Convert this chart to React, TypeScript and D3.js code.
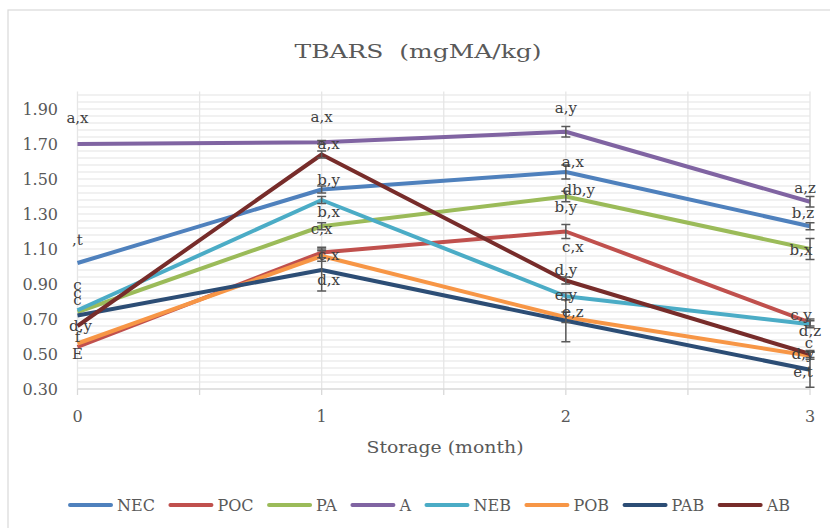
import React from "react";
import * as d3 from "d3";

const months = [0, 1, 2, 3];
const seriesNames = ["NEC", "POC", "PA", "A", "NEB", "POB", "PAB", "AB"];
const NEC = [1.02, 1.44, 1.54, 1.23];
const POC = [0.54, 1.08, 1.2, 0.68];
const PA = [0.74, 1.23, 1.4, 1.1];
const A = [1.7, 1.71, 1.77, 1.37];
const NEB = [0.75, 1.38, 0.83, 0.67];
const POB = [0.56, 1.06, 0.71, 0.49];
const PAB = [0.72, 0.98, 0.69, 0.41];
const AB = [0.66, 1.64, 0.92, 0.5];

const errNEC = [0, 0.02, 0.04, 0.02];
const errPOC = [0, 0.03, 0.04, 0.02];
const errPA = [0, 0.02, 0.03, 0.06];
const errA = [0, 0.01, 0.03, 0.03];
const errNEB = [0, 0.02, 0.02, 0.02];
const errPOB = [0, 0.03, 0.03, 0.02];
const errPAB = [0, 0.12, 0.12, 0.1];
const errAB = [0, 0.02, 0.02, 0.02];

const yTicks = [0.3, 0.5, 0.7, 0.9, 1.1, 1.3, 1.5, 1.7, 1.9];
const xTicks = [0, 1, 2, 3];

// significance letters: [series, month index, text]
const labelTexts: [string, number, string][] = [
  ["A", 0, "a,x"], ["NEC", 0, ",t"], ["NEB", 0, "c"], ["PA", 0, "c"], ["PAB", 0, "c"], ["AB", 0, "d,y"], ["POB", 0, "f"], ["POC", 0, "E"],
  ["A", 1, "a,x"], ["AB", 1, "a,x"], ["NEC", 1, "b,y"], ["NEB", 1, "b,x"], ["PA", 1, "c,x"], ["POC", 1, "c,x"], ["PAB", 1, "d,x"],
  ["A", 2, "a,y"], ["NEC", 2, "a,x"], ["PA", 2, "db,y"], ["POC", 2, "b,y"], ["POC", 2, "c,x"], ["AB", 2, "d,y"], ["NEB", 2, "e,y"], ["POB", 2, "e,z"],
  ["A", 3, "a,z"], ["NEC", 3, "b,z"], ["PA", 3, "b,x"], ["POC", 3, "c,y"], ["NEB", 3, "d,z"], ["POB", 3, "c"], ["AB", 3, "d,y"], ["PAB", 3, "e,t"],
];
// layout offsets (px) for each label above, same order
const labelOffsets: [number, number][] = [
  [0, -26], [0, -23], [0, -25], [0, -19], [0, -15.5], [3, 0], [0, -7], [0, 7],
  [0, -25.5], [7, -11], [7, -9.5], [7, 12], [0, 3], [7, 2.5], [7, 10],
  [0, -23.5], [7, -10], [13, -6.5], [0, -25], [7, 15], [0, -10.5], [0, -1], [7, -5.5],
  [-5, -13.5], [-7, -13], [-9, 1], [-9, -8], [0, 7], [-1, -12.5], [-7, -0.5], [-7, 2],
];

const colors = ["#4F81BD", "#C0504D", "#9BBB59", "#8064A2", "#4BACC6", "#F79646", "#2C4D75", "#772C2A"];

const values: Record<string, number[]> = { NEC, POC, PA, A, NEB, POB, PAB, AB };
const errors: Record<string, number[]> = {
  NEC: errNEC, POC: errPOC, PA: errPA, A: errA, NEB: errNEB, POB: errPOB, PAB: errPAB, AB: errAB,
};

const W = 830;
const H = 528;
const FONT = "DejaVu Serif";
const TXT = "#595959";

let ctx: CanvasRenderingContext2D | null = null;
function measure(text: string, size: number) {
  if (!ctx) ctx = document.createElement("canvas").getContext("2d");
  if (!ctx) return text.length * size * 0.6;
  ctx.font = `${size}px "${FONT}"`;
  return ctx.measureText(text).width;
}

export default function App() {
  const x = d3.scaleLinear().domain([0, 3]).range([77.5, 810]);
  const y = d3.scaleLinear().domain([0.3, 2.0]).range([389, 91.5]);
  const line = d3
    .line<number>()
    .x((_, i) => x(months[i]))
    .y((d) => y(d));

  const minorGrid = d3.range(0.34, 1.995, 0.04);
  const vGrid = d3.range(0, 3.01, 0.5);

  // legend layout
  const legSize = 16;
  const lineLen = 45;
  const gapLT = 4;
  const gapItem = 13.5;
  const widths = seriesNames.map((n) => measure(n, legSize));
  const total = widths.reduce((a, w) => a + lineLen + gapLT + w + gapItem, 0) - gapItem;
  let cursor = 429 - total / 2;
  const legendItems = seriesNames.map((n, i) => {
    const item = { n, i, x0: cursor };
    cursor += lineLen + gapLT + widths[i] + gapItem;
    return item;
  });

  return (
    <svg
      width={W}
      height={H}
      style={{ position: "absolute", left: 0, top: 0, background: "#fff" }}
      fontFamily={FONT}
    >
      <rect x={0} y={0} width={W} height={H} fill="#fff" />
      <rect x={8} y={10} width={W + 10} height={H + 10} fill="#fff" stroke="#d9d9d9" strokeWidth={1.2} />

      {/* gridlines */}
      {minorGrid.map((v, i) => (
        <line key={"h" + i} x1={x(0)} x2={x(3)} y1={y(v)} y2={y(v)} stroke="#ececec" strokeWidth={1.3} />
      ))}
      {vGrid.map((v, i) => (
        <line key={"v" + i} x1={x(v)} x2={x(v)} y1={y(2.0)} y2={y(0.3)} stroke="#e6e6e6" strokeWidth={1.3} />
      ))}
      {/* x axis */}
      <line x1={x(0)} x2={x(3)} y1={y(0.3)} y2={y(0.3)} stroke="#d9d9d9" strokeWidth={1.5} />
      {vGrid.map((v, i) => (
        <line key={"t" + i} x1={x(v)} x2={x(v)} y1={y(0.3)} y2={y(0.3) + 6} stroke="#d9d9d9" strokeWidth={1.3} />
      ))}

      {/* y tick labels */}
      {yTicks.map((t) => (
        <text key={"yt" + t} x={58} y={y(t)} textAnchor="end" dominantBaseline="central" fontSize={16} fill={TXT}>
          {t.toFixed(2)}
        </text>
      ))}
      {xTicks.map((t) => (
        <text key={"xt" + t} x={x(t)} y={416} textAnchor="middle" dominantBaseline="central" fontSize={16} fill={TXT}>
          {t}
        </text>
      ))}

      {/* title */}
      <text
        x={418}
        y={51.5}
        textAnchor="middle"
        dominantBaseline="central"
        fontSize={18.5}
        fill={TXT}
        textLength={247}
        lengthAdjust="spacingAndGlyphs"
        style={{ whiteSpace: "pre" }}
      >
        {"TBARS  (mgMA/kg)"}
      </text>
      <text
        x={445}
        y={447}
        textAnchor="middle"
        dominantBaseline="central"
        fontSize={17}
        fill={TXT}
        textLength={157}
        lengthAdjust="spacingAndGlyphs"
      >
        Storage (month)
      </text>

      {/* lines */}
      {seriesNames.map((n, i) => (
        <path
          key={"l" + n}
          d={line(values[n]) || ""}
          fill="none"
          stroke={colors[i]}
          strokeWidth={4}
          strokeLinecap="butt"
          strokeLinejoin="round"
        />
      ))}

      {/* error bars */}
      {seriesNames.map((n) =>
        values[n].map((v, j) => {
          const e = errors[n][j];
          if (!e) return null;
          const cx = x(months[j]);
          return (
            <g key={"e" + n + j} stroke="#595959" strokeWidth={1.5}>
              <line x1={cx} x2={cx} y1={y(v + e)} y2={y(v - e)} />
              <line x1={cx - 4.5} x2={cx + 4.5} y1={y(v + e)} y2={y(v + e)} />
              <line x1={cx - 4.5} x2={cx + 4.5} y1={y(v - e)} y2={y(v - e)} />
            </g>
          );
        })
      )}

      {/* significance labels */}
      {labelTexts.map(([s, j, t], k) => {
        const [dx, dy] = labelOffsets[k];
        return (
          <text
            key={"lab" + k}
            x={x(months[j]) + dx}
            y={y(values[s][j]) + dy}
            textAnchor="middle"
            dominantBaseline="central"
            fontSize={15}
            fill="#404040"
          >
            {t}
          </text>
        );
      })}

      {/* legend */}
      {legendItems.map(({ n, i, x0 }) => (
        <g key={"lg" + n}>
          <line x1={x0 + 2} x2={x0 + lineLen - 2} y1={505} y2={505} stroke={colors[i]} strokeWidth={4} strokeLinecap="round" />
          <text x={x0 + lineLen + gapLT} y={505} dominantBaseline="central" fontSize={legSize} fill={TXT}>
            {n}
          </text>
        </g>
      ))}
    </svg>
  );
}
